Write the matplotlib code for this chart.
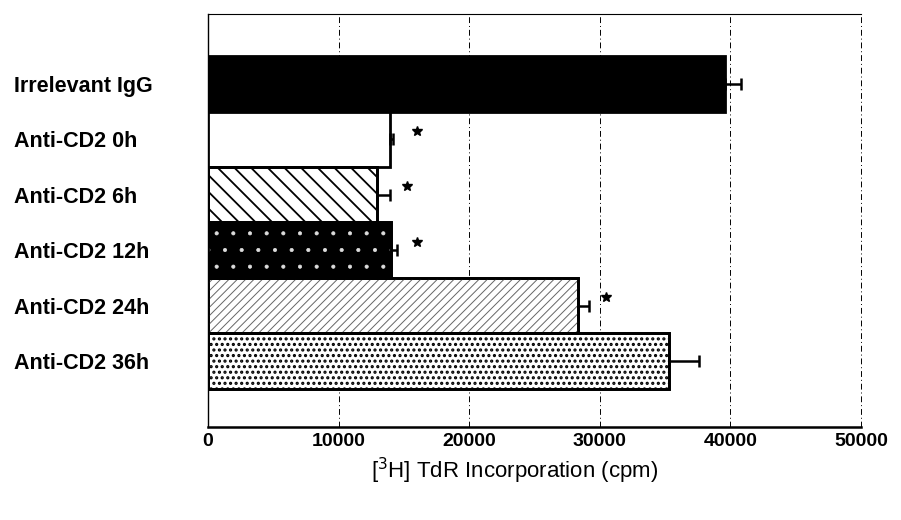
import matplotlib
matplotlib.use("Agg")
import matplotlib.pyplot as plt

plt.rcParams['font.family'] = ['Liberation Sans', 'DejaVu Sans']

# ── DATA ──────────────────────────────────────────────────────────────────
groups = ["Irrelevant IgG", "Anti-CD2 0h", "Anti-CD2 6h",
          "Anti-CD2 12h", "Anti-CD2 24h", "Anti-CD2 36h"]
cpm = [39600, 13900, 12900, 14000, 28300, 35300]
err = [1200, 300, 1000, 450, 900, 2300]
# position of the significance star (None = no star)
star_x = [None, 16000, 15200, 16000, 30500, None]

xticks = [0, 10000, 20000, 30000, 40000, 50000]

# ── STYLE per bar: (facecolor, hatch, hatch colour) ───────────────────────
styles = [
    ("black", None, "black"),
    ("white", None, "black"),
    ("white", "\\\\", "black"),
    ("black", ".", "#dddddd"),
    ("white", "////", "#666666"),
    ("white", "...", "black"),
]
hatch_lw = [1.0, 1.0, 1.3, 0.5, 0.7, 1.5]

fig = plt.figure(figsize=(9.01, 5.2), dpi=100)
ax = fig.add_axes([0.2309, 0.1788, 0.7247, 0.7943])

ypos = list(range(len(groups)))
for i, (v, (fc, hatch, hc)) in enumerate(zip(cpm, styles)):
    # filled base bar with outline
    ax.barh(i, v, height=1.0, color=fc, edgecolor="black", linewidth=2, zorder=3)
    if hatch:
        with plt.rc_context({'hatch.linewidth': hatch_lw[i], 'hatch.color': hc}):
            b = ax.barh(i, v, height=1.0, color="none", edgecolor=hc,
                        linewidth=0, hatch=hatch, zorder=3)
            for p in b:
                try:
                    p.set_hatch_linewidth(hatch_lw[i])
                except AttributeError:
                    pass
        # redraw outline on top
        ax.barh(i, v, height=1.0, color="none", edgecolor="black", linewidth=2, zorder=4)

# one-sided error bars
ax.errorbar(cpm, ypos, xerr=[[0] * len(err), err], fmt="none",
            ecolor="black", elinewidth=1.8, capsize=4, capthick=1.8, zorder=5)

# significance stars
for i, sx in enumerate(star_x):
    if sx is not None:
        ax.plot(sx, i - 0.15, marker="*", color="black", markersize=7, zorder=5)

# axes
ax.set_xlim(0, 50000)
ax.set_ylim(len(groups) - 1 + 1.19, -1.26)
ax.set_xticks(xticks)
ax.set_xticklabels([str(t) for t in xticks], fontsize=14, fontweight="bold")
ax.tick_params(axis="x", length=0, pad=4)

ax.set_yticks(ypos)
ax.set_yticklabels(groups, fontsize=15.5, fontweight="bold", ha="left")
ax.tick_params(axis="y", length=0, pad=140)

ax.grid(axis="x", color="black", linestyle=(0, (6, 3, 1, 3)), linewidth=0.7, zorder=0)
ax.axvline(xticks[-1], color="black", linestyle=(0, (6, 3, 1, 3)),
           linewidth=0.7, zorder=0, clip_on=False)
ax.set_axisbelow(True)

ax.spines["right"].set_visible(False)
ax.spines["top"].set_linewidth(0.8)
ax.spines["left"].set_linewidth(1.0)
ax.spines["bottom"].set_linewidth(1.8)

ax.set_xlabel(r"[$^{3}$H] TdR Incorporation (cpm)", fontsize=16)
ax.xaxis.set_label_coords(0.47, -0.07)

fig.savefig("out.png", dpi=100)
